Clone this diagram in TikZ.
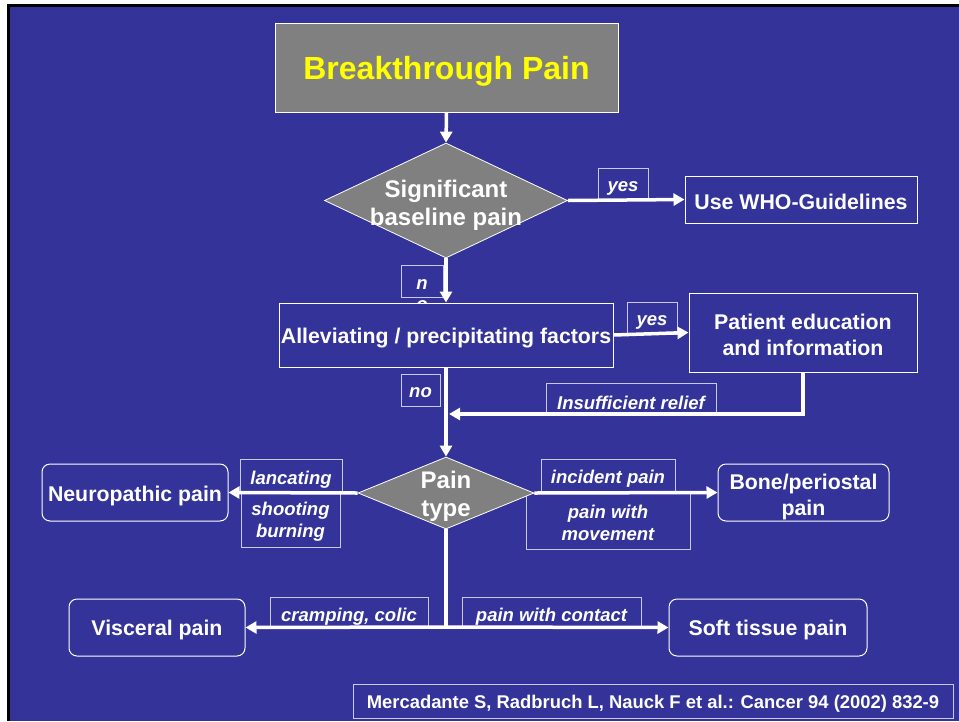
\documentclass[tikz,border=0pt]{standalone}
\usepackage{fontspec}
\setmainfont{Liberation Sans}
\usetikzlibrary{shapes.geometric,arrows.meta}
\definecolor{bg}{HTML}{333399}
\definecolor{gr}{HTML}{808080}
\definecolor{lav}{HTML}{C8C8F0}
\definecolor{ylw}{HTML}{FFFF00}
\begin{document}
\begin{tikzpicture}[x=1pt,y=-1pt,
  box/.style={draw=white, line width=1pt, fill=bg, inner sep=0pt},
  rbox/.style={box, rounded corners=8pt},
  btext/.style={text=white, font=\bfseries\fontsize{21.3}{26}\selectfont, align=center, inner sep=0pt},
  dia/.style={diamond, draw=white, line width=0.8pt, fill=gr, inner sep=0pt},
  dtext/.style={text=white, font=\bfseries\fontsize{24}{28}\selectfont, align=center, inner sep=0pt},
  lbl/.style={draw=lav, line width=0.8pt, inner sep=0pt},
  lbltext/.style={text=white, font=\bfseries\itshape\fontsize{18.5}{22}\selectfont, align=center, inner sep=0pt},
  conn/.style={draw=white, line width=3.5pt, -{Triangle[length=11pt,width=12pt]}},
  plain/.style={draw=white, line width=3.5pt}]
\useasboundingbox (0,0) rectangle (959,721);
\fill[white] (0,0) rectangle (959,721);
\fill[black] (7,4) rectangle (959,721);
\fill[bg] (10,7) rectangle (959,721);

% labels (drawn below connectors)
\node[lbl, minimum width=50, minimum height=32] (yes1) at (623,184) {};
\node[lbltext] at ([yshift=-4.5pt]yes1.center) {yes};
\node[lbl, minimum width=42, minimum height=32] (nlbl) at (422,281) {};
\node[lbltext] at ([yshift=-4pt]nlbl.center) {n};
\node[lbltext, anchor=base] (olbl) at (422,310) {o};
\node[lbl, minimum width=50, minimum height=32] (yes2) at (652,318) {};
\node[lbltext] at ([yshift=-4.5pt]yes2.center) {yes};
\node[lbl, minimum width=39, minimum height=32] (nolbl) at (420.5,390) {};
\node[lbltext] at ([yshift=-3pt]nolbl.center) {no};
\node[lbl, minimum width=170, minimum height=31] (insuf) at (631,398.5) {};
\node[lbltext] at ([yshift=-4pt]insuf.center) {Insufficient relief};
\node[lbl, minimum width=102, minimum height=32] (lanc) at (291,475) {};
\node[lbltext] at ([yshift=-4.5pt]lanc.center) {lancating};
\node[lbl, minimum width=99, minimum height=54] (shoot) at (290.5,520) {};
\node[lbltext] at ([yshift=-2pt]shoot.center) {shooting\\burning};
\node[lbl, minimum width=134, minimum height=32] (incid) at (608,475) {};
\node[lbltext] at ([yshift=-4pt]incid.center) {incident pain};
\node[lbl, minimum width=164, minimum height=56] (movem) at (608,521) {};
\node[lbltext] at ([yshift=-2pt]movem.center) {pain with\\movement};
\node[lbl, minimum width=158, minimum height=30] (cramp) at (349,612) {};
\node[lbltext] at ([yshift=-4.5pt]cramp.center) {cramping, colic};
\node[lbl, minimum width=179, minimum height=30] (contact) at (551.5,612) {};
\node[lbltext] at ([yshift=-4.5pt]contact.center) {pain with contact};

% main nodes
\node[draw=white, line width=1pt, fill=gr, minimum width=343, minimum height=89, inner sep=0pt] (title) at (446.5,67.5) {};
\node[text=ylw, font=\bfseries\fontsize{32}{36}\selectfont, inner sep=0pt] at ([yshift=-4pt]title.center) {Breakthrough Pain};
\node[dia, minimum width=243, minimum height=115] (d1) at (446,200.5) {};
\node[dtext] at ([yshift=-4.5pt]d1.center) {Significant\\baseline pain};
\node[box, minimum width=232, minimum height=47] (who) at (801,199.5) {};
\node[btext] at ([yshift=-2.5pt]who.center) {Use WHO-Guidelines};
\node[box, minimum width=334, minimum height=64] (allev) at (446,335) {};
\node[btext] at ([yshift=-3pt]allev.center) {Alleviating / precipitating factors};
\node[box, minimum width=228, minimum height=79] (patient) at (803,332.5) {};
\node[btext] at ([yshift=-2.5pt]patient.center) {Patient education\\and information};
\node[dia, minimum width=176, minimum height=72] (d2) at (446,493) {};
\node[dtext] at ([yshift=-3pt]d2.center) {Pain\\type};
\node[rbox, minimum width=186, minimum height=57] (neuro) at (135,492.5) {};
\node[btext] at ([yshift=-3pt]neuro.center) {Neuropathic pain};
\node[rbox, minimum width=171, minimum height=57] (bone) at (803.5,492.5) {};
\node[btext] at ([yshift=-4pt]bone.center) {Bone/periostal\\pain};
\node[rbox, minimum width=176, minimum height=57] (visc) at (157,627.5) {};
\node[btext] at ([yshift=-2.5pt]visc.center) {Visceral pain};
\node[rbox, minimum width=198, minimum height=57] (soft) at (768,627.5) {};
\node[btext] at ([yshift=-2.5pt]soft.center) {Soft tissue pain};
\node[draw=lav, line width=1pt, minimum width=600, minimum height=34, inner sep=0pt] (cite) at (653,701) {};
\node[text=white, font=\bfseries\fontsize{18.4}{22}\selectfont, inner sep=0pt] at ([yshift=-3pt]cite.center)
  {Mercadante S, Radbruch L, Nauck F et al.: Cancer 94 (2002) 832-9};

% connectors
\coordinate (ins) at (449,414);
\coordinate (junc) at (446,627);
\draw[conn] (title.south) -- (d1.north);
\draw[conn] (d1.east) -- (who.west);
\draw[conn] (d1.south) -- (allev.north);
\draw[conn] (allev.east) -- (patient.west);
\draw[conn] (allev.south) -- (d2.north);
\draw[conn] (patient.south) |- (ins);
\draw[conn] (d2.west) -- (neuro.east);
\draw[conn] (d2.east) -- (bone.west);
\draw[plain] (d2.south) -- (junc);
\draw[conn] (junc) -- (visc.east);
\draw[conn] (junc) -- (soft.west);
\end{tikzpicture}
\end{document}
